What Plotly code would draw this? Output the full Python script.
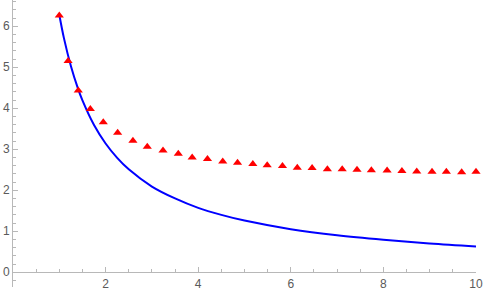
import plotly.graph_objects as go

# Blue curve
curve_x = [1, 1.1, 1.25, 1.4, 1.5, 1.75, 2, 2.25, 2.5, 3, 3.5, 4, 4.5, 5, 6, 7, 8, 9, 10]
curve_y = [6.28, 5.71, 5.03, 4.49, 4.19, 3.59, 3.14, 2.79, 2.51, 2.09, 1.80, 1.57, 1.40, 1.26, 1.05, 0.90, 0.79, 0.70, 0.63]

# Red triangles
pts_x = [1.0, 1.19, 1.41, 1.67, 1.95, 2.26, 2.59, 2.90, 3.24, 3.57, 3.87, 4.20, 4.53, 4.85,
         5.18, 5.49, 5.82, 6.14, 6.46, 6.79, 7.11, 7.43, 7.74, 8.08, 8.40, 8.72, 9.05, 9.36,
         9.69, 10.0]
pts_y = [6.26, 5.15, 4.43, 3.98, 3.66, 3.40, 3.21, 3.06, 2.97, 2.89, 2.80, 2.76, 2.70, 2.67,
         2.64, 2.61, 2.59, 2.55, 2.54, 2.51, 2.51, 2.50, 2.49, 2.48, 2.47, 2.46, 2.45, 2.45,
         2.44, 2.45]

x_ticks = [2, 4, 6, 8, 10]
y_ticks = [0, 1, 2, 3, 4, 5, 6]

y_lo, y_hi = -0.36, 6.64

fig = go.Figure()
fig.add_trace(go.Scatter(x=curve_x, y=curve_y, mode="lines",
                         line=dict(color="#0000ff", width=2, shape="spline"),
                         hoverinfo="skip"))
fig.add_trace(go.Scatter(x=pts_x, y=pts_y, mode="markers",
                         marker=dict(symbol="triangle-up", size=8, color="#ff0000"),
                         cliponaxis=False))

axis_col = "#b8b8b8"
font_col = "#5a5a5a"

fig.update_layout(
    width=485, height=296,
    margin=dict(l=13, r=9, t=0, b=9, autoexpand=False),
    paper_bgcolor="white", plot_bgcolor="white",
    showlegend=False,
    font=dict(family="Liberation Sans, Arial, sans-serif", size=12, color=font_col),
    xaxis=dict(range=[0, 10], tickvals=x_ticks, ticks="inside", ticklen=5,
               tickcolor=axis_col, showline=True, linecolor=axis_col, linewidth=1,
               showgrid=False, zeroline=False, anchor="free",
               position=(0 - y_lo) / (y_hi - y_lo),
               minor=dict(dtick=0.5, tick0=0, ticks="inside", ticklen=3, tickcolor=axis_col),
               tickfont=dict(size=12, color=font_col)),
    yaxis=dict(range=[y_lo, y_hi], tickvals=y_ticks, ticks="inside", ticklen=5,
               tickcolor=axis_col, showline=True, linecolor=axis_col, linewidth=1,
               showgrid=False, zeroline=False,
               minor=dict(dtick=0.2, tick0=0, ticks="inside", ticklen=3, tickcolor=axis_col),
               tickfont=dict(size=12, color=font_col)),
)

fig.write_html("out.html", config={"displayModeBar": False},
               post_script="document.body.style.margin='0';document.body.style.overflow='hidden';")
